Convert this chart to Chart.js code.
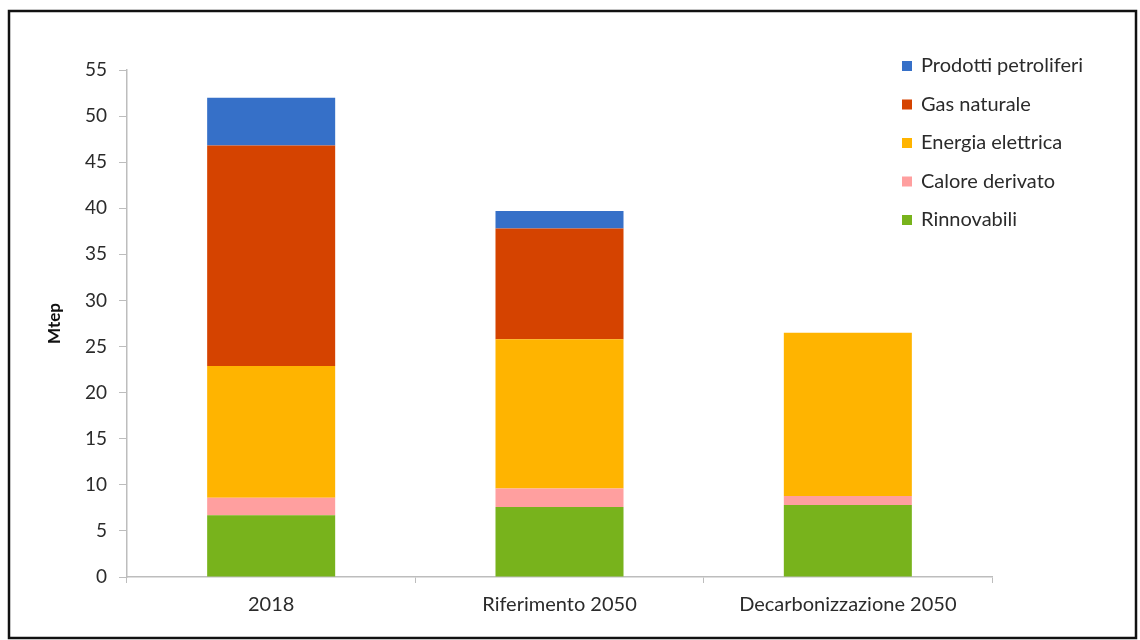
<!DOCTYPE html>
<html lang="it">
<head>
  <meta charset="UTF-8">
  <title>Consumi finali - Mtep</title>
  <script src="https://cdn.jsdelivr.net/npm/chart.js"></script>
  <style>
    html, body { margin: 0; padding: 0; background: #fff; }
    #wrap { width: 1140px; height: 640px; position: relative; }
  </style>
</head>
<body>
  <div id="wrap"><canvas id="chart" width="1140" height="640"></canvas></div>
  <script>
    // data (Mtep)
    const categories = ['2018', 'Riferimento 2050', 'Decarbonizzazione 2050'];
    const seriesNames = ['Rinnovabili', 'Calore derivato', 'Energia elettrica', 'Gas naturale', 'Prodotti petroliferi'];
    const rinnovabili = [6.7, 7.6, 7.8];
    const caloreDerivato = [1.9, 2.0, 1.0];
    const energiaElettrica = [14.3, 16.2, 17.7];
    const gasNaturale = [23.9, 12.0, 0];
    const prodottiPetroliferi = [5.2, 1.9, 0];
    const yTicks = [0, 5, 10, 15, 20, 25, 30, 35, 40, 45, 50, 55];

    const colors = ['#78B31C', '#FF9F9F', '#FFB400', '#D54300', '#3670C8'];
    const values = [rinnovabili, caloreDerivato, energiaElettrica, gasNaturale, prodottiPetroliferi];
    const FONT = 'Lato, "Open Sans", sans-serif';
    const TEXT = '#2b2b2b';

    // legend drawn in the top right corner, over the empty part of the plot
    const cornerLegend = {
      id: 'cornerLegend',
      afterDraw(chart) {
        const ctx = chart.ctx;
        ctx.save();
        ctx.font = '20px ' + FONT;
        ctx.textBaseline = 'middle';
        const items = chart.data.datasets.slice().reverse();
        items.forEach((ds, i) => {
          const y = 66 + i * 38.5;
          ctx.fillStyle = ds.backgroundColor;
          ctx.fillRect(902, y - 5, 10, 10);
          ctx.fillStyle = TEXT;
          ctx.fillText(ds.label, 921, y);
        });
        ctx.restore();
      }
    };

    const frame = {
      id: 'frame',
      beforeDraw(chart) {
        const ctx = chart.ctx;
        ctx.save();
        ctx.fillStyle = '#fff';
        ctx.fillRect(0, 0, chart.width, chart.height);
        ctx.restore();
      },
      afterDraw(chart) {
        const ctx = chart.ctx;
        ctx.save();
        ctx.strokeStyle = '#111';
        ctx.lineWidth = 2.5;
        ctx.strokeRect(9, 11, 1127, 627);
        ctx.restore();
      }
    };

    new Chart(document.getElementById('chart'), {
      type: 'bar',
      data: {
        labels: categories,
        datasets: seriesNames.map((name, i) => ({
          label: name,
          data: values[i],
          backgroundColor: colors[i],
          borderWidth: 0,
          categoryPercentage: 1,
          barPercentage: 0.444
        }))
      },
      options: {
        responsive: false,
        animation: false,
        layout: { padding: { top: 70, right: 148, bottom: 0, left: 0 } },
        plugins: {
          legend: { display: false },
          tooltip: { enabled: false }
        },
        scales: {
          x: {
            stacked: true,
            afterFit: s => { s.height = 63; },
            border: { color: '#bdbdbd', width: 1.5 },
            grid: { display: true, drawOnChartArea: false, offset: true, tickLength: 6, color: '#bdbdbd' },
            ticks: { color: TEXT, font: { family: FONT, size: 20 }, padding: 10, maxRotation: 0 }
          },
          y: {
            stacked: true,
            min: 0,
            max: 55,
            afterFit: s => { s.width = 127; },
            afterBuildTicks: s => { s.ticks = yTicks.map(v => ({ value: v })); },
            border: { color: '#bdbdbd', width: 1.5 },
            grid: { display: true, drawOnChartArea: false, tickLength: 8, color: '#bdbdbd' },
            ticks: { color: TEXT, font: { family: FONT, size: 19 }, padding: 12 },
            title: {
              display: true,
              text: 'Mtep',
              color: '#111',
              font: { family: FONT, size: 17, weight: 'bold' },
              padding: { top: 44, bottom: 0 }
            }
          }
        }
      },
      plugins: [frame, cornerLegend]
    });
  </script>
</body>
</html>
